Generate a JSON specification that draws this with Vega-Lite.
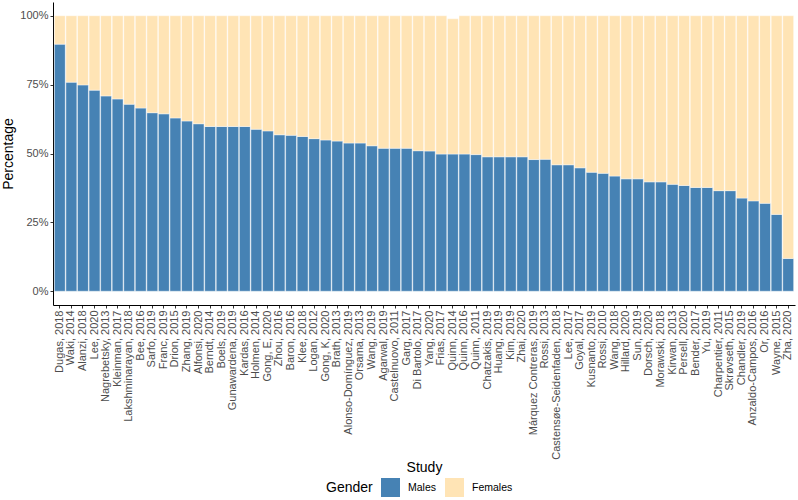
{
  "$schema": "https://vega.github.io/schema/vega-lite/v6.json",
  "width": 742,
  "height": 303,
  "autosize": {"type": "none"},
  "padding": {"left": 53, "top": 2, "right": 3, "bottom": 195},
  "background": "white",
  "config": {
    "view": {"stroke": null},
    "font": "Liberation Sans",
    "axis": {"grid": false, "domainColor": "black", "tickColor": "#333333", "labelColor": "#4D4D4D", "titleColor": "black", "titleFontWeight": "normal", "titleFont": "Liberation Sans", "labelFont": "Liberation Sans"}
  },
  "data": {
    "values": [
      {"Study": "Dugas, 2018", "Males": 89.7, "Females": 10.3},
      {"Study": "Waki, 2014", "Males": 75.9, "Females": 24.1},
      {"Study": "Alanzi, 2018", "Males": 74.9, "Females": 25.1},
      {"Study": "Lee, 2020", "Males": 73.0, "Females": 27.0},
      {"Study": "Nagrebetsky, 2013", "Males": 70.9, "Females": 29.1},
      {"Study": "Kleinman, 2017", "Males": 69.8, "Females": 30.2},
      {"Study": "Lakshminarayan, 2018", "Males": 67.9, "Females": 32.1},
      {"Study": "Bee, 2016", "Males": 66.5, "Females": 33.5},
      {"Study": "Sarfo, 2019", "Males": 64.8, "Females": 35.2},
      {"Study": "Franc, 2019", "Males": 64.4, "Females": 35.6},
      {"Study": "Drion, 2015", "Males": 62.9, "Females": 37.1},
      {"Study": "Zhang, 2019", "Males": 61.8, "Females": 38.2},
      {"Study": "Alfonsi, 2020", "Males": 60.8, "Females": 39.2},
      {"Study": "Berndt, 2014", "Males": 59.8, "Females": 40.2},
      {"Study": "Boels, 2019", "Males": 59.8, "Females": 40.2},
      {"Study": "Gunawardena, 2019", "Males": 59.8, "Females": 40.2},
      {"Study": "Kardas, 2016", "Males": 59.8, "Females": 40.2},
      {"Study": "Holmen, 2014", "Males": 58.8, "Females": 41.2},
      {"Study": "Gong, E, 2020", "Males": 58.2, "Females": 41.8},
      {"Study": "Zhou, 2016", "Males": 56.8, "Females": 43.2},
      {"Study": "Baron, 2016", "Males": 56.6, "Females": 43.4},
      {"Study": "Klee, 2018", "Males": 56.2, "Females": 43.8},
      {"Study": "Logan, 2012", "Males": 55.4, "Females": 44.6},
      {"Study": "Gong, K, 2020", "Males": 54.9, "Females": 45.1},
      {"Study": "Brath, 2013", "Males": 54.5, "Females": 45.5},
      {"Study": "Alonso-Domínguez, 2019", "Males": 53.8, "Females": 46.2},
      {"Study": "Orsama, 2013", "Males": 53.8, "Females": 46.2},
      {"Study": "Wang, 2019", "Males": 52.8, "Females": 47.2},
      {"Study": "Agarwal, 2019", "Males": 51.9, "Females": 48.1},
      {"Study": "Castelnuovo, 2011", "Males": 51.9, "Females": 48.1},
      {"Study": "Garg, 2017", "Males": 51.9, "Females": 48.1},
      {"Study": "Di Bartolo, 2017", "Males": 51.0, "Females": 49.0},
      {"Study": "Yang, 2020", "Males": 50.9, "Females": 49.1},
      {"Study": "Frias, 2017", "Males": 49.8, "Females": 50.2},
      {"Study": "Quinn, 2014", "Males": 49.8, "Females": 49.1},
      {"Study": "Quinn, 2016", "Males": 49.8, "Females": 50.2},
      {"Study": "Quinn, 2011", "Males": 49.6, "Females": 50.4},
      {"Study": "Chatzakis, 2019", "Males": 48.8, "Females": 51.2},
      {"Study": "Huang, 2019", "Males": 48.8, "Females": 51.2},
      {"Study": "Kim, 2019", "Males": 48.8, "Females": 51.2},
      {"Study": "Zhai, 2020", "Males": 48.8, "Females": 51.2},
      {"Study": "Márquez Contreras, 2019", "Males": 47.8, "Females": 52.2},
      {"Study": "Rossi, 2013", "Males": 47.9, "Females": 52.1},
      {"Study": "Castensøe-Seidenfaden, 2018", "Males": 45.9, "Females": 54.1},
      {"Study": "Lee, 2017", "Males": 45.9, "Females": 54.1},
      {"Study": "Goyal, 2017", "Males": 44.8, "Females": 55.2},
      {"Study": "Kusnanto, 2019", "Males": 43.2, "Females": 56.8},
      {"Study": "Rossi, 2010", "Males": 42.8, "Females": 57.2},
      {"Study": "Wang, 2018", "Males": 41.8, "Females": 58.2},
      {"Study": "Hillard, 2020", "Males": 40.8, "Females": 59.2},
      {"Study": "Sun, 2019", "Males": 40.8, "Females": 59.2},
      {"Study": "Dorsch, 2020", "Males": 39.7, "Females": 60.3},
      {"Study": "Morawski, 2018", "Males": 39.7, "Females": 60.3},
      {"Study": "Kirwan, 2013", "Males": 38.8, "Females": 61.2},
      {"Study": "Persell, 2020", "Males": 38.4, "Females": 61.6},
      {"Study": "Bender, 2017", "Males": 37.7, "Females": 62.3},
      {"Study": "Yu, 2019", "Males": 37.7, "Females": 62.3},
      {"Study": "Charpentier, 2011", "Males": 36.5, "Females": 63.5},
      {"Study": "Skrøvseth, 2015", "Males": 36.5, "Females": 63.5},
      {"Study": "Chandler, 2019", "Males": 33.8, "Females": 66.2},
      {"Study": "Anzaldo-Campos, 2016", "Males": 32.8, "Females": 67.2},
      {"Study": "Or, 2016", "Males": 31.9, "Females": 68.1},
      {"Study": "Wayne, 2015", "Males": 27.9, "Females": 72.1},
      {"Study": "Zha, 2020", "Males": 11.9, "Females": 88.1}
    ]
  },
  "transform": [
    {"fold": ["Males", "Females"], "as": ["Gender", "Percentage"]}
  ],
  "mark": {"type": "bar", "stroke": "white", "strokeWidth": 0.4},
  "encoding": {
    "x": {
      "field": "Study", "type": "nominal", "sort": null,
      "scale": {"paddingInner": 0.06, "paddingOuter": 0.12},
      "axis": {"labelAngle": -90, "labelFontSize": 11, "tickSize": 3, "labelPadding": 2, "title": "Study", "titleFontSize": 14, "titlePadding": 1, "labelLimit": 200}
    },
    "y": {
      "field": "Percentage", "type": "quantitative", "stack": "zero",
      "scale": {"domain": [-5, 105], "nice": false, "zero": false},
      "axis": {"values": [0, 25, 50, 75, 100], "labelExpr": "datum.value + '%'", "labelFontSize": 11, "tickSize": 3, "labelPadding": 2, "title": "Percentage", "titleFontSize": 14, "titlePadding": 4}
    },
    "color": {
      "field": "Gender", "type": "nominal",
      "scale": {"domain": ["Males", "Females"], "range": ["#4682B4", "#FFE4B5"]},
      "legend": {"orient": "none", "legendX": 273, "legendY": 476, "direction": "horizontal", "titleOrient": "left", "titleFontSize": 14, "titleFontWeight": "normal", "titleColor": "black", "titlePadding": 8, "labelFontSize": 10.5, "labelColor": "black", "symbolType": "square", "symbolSize": 361, "symbolStrokeWidth": 0, "labelOffset": 8, "columnPadding": 8}
    },
    "order": {"field": "Gender", "sort": "descending"}
  }
}
